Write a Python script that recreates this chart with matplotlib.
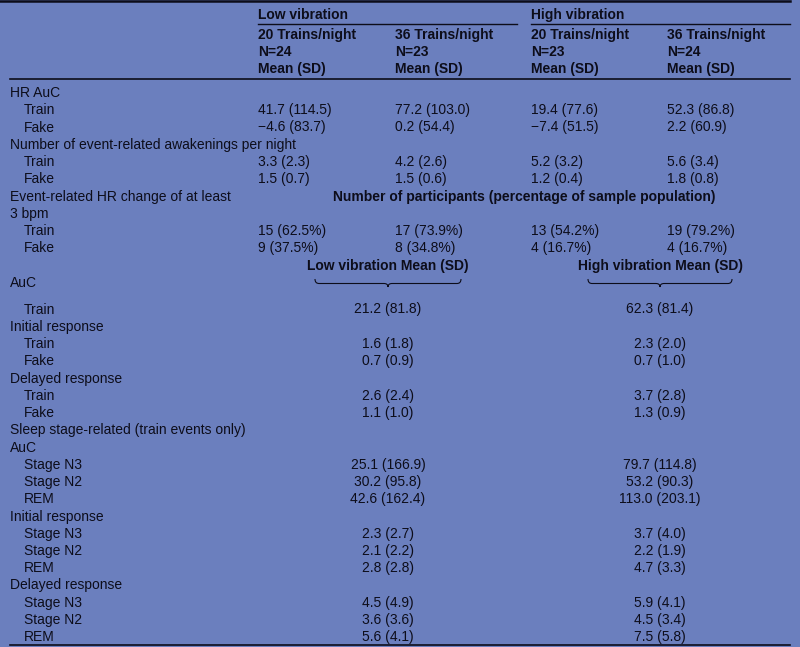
import numpy as np
import matplotlib.pyplot as plt
from matplotlib.path import Path
from matplotlib.patches import PathPatch

# Column headers
groups = ["Low vibration", "High vibration"]
trains = ["20 Trains/night", "36 Trains/night", "20 Trains/night", "36 Trains/night"]
n_sizes = [24, 23, 23, 24]

# Four-column section: mean, sd per column
hr_auc_train = [(41.7, 114.5), (77.2, 103.0), (19.4, 77.6), (52.3, 86.8)]
hr_auc_fake = [(-4.6, 83.7), (0.2, 54.4), (-7.4, 51.5), (2.2, 60.9)]
awake_train = [(3.3, 2.3), (4.2, 2.6), (5.2, 3.2), (5.6, 3.4)]
awake_fake = [(1.5, 0.7), (1.5, 0.6), (1.2, 0.4), (1.8, 0.8)]
# participants with HR change >= 3 bpm: count, percent
hr3_train = [(15, 62.5), (17, 73.9), (13, 54.2), (19, 79.2)]
hr3_fake = [(9, 37.5), (8, 34.8), (4, 16.7), (4, 16.7)]

# Two-column section (low, high vibration): mean, sd
auc_train = [(21.2, 81.8), (62.3, 81.4)]
init_train = [(1.6, 1.8), (2.3, 2.0)]
init_fake = [(0.7, 0.9), (0.7, 1.0)]
delay_train = [(2.6, 2.4), (3.7, 2.8)]
delay_fake = [(1.1, 1.0), (1.3, 0.9)]
stage_auc_n3 = [(25.1, 166.9), (79.7, 114.8)]
stage_auc_n2 = [(30.2, 95.8), (53.2, 90.3)]
stage_auc_rem = [(42.6, 162.4), (113.0, 203.1)]
stage_init_n3 = [(2.3, 2.7), (3.7, 4.0)]
stage_init_n2 = [(2.1, 2.2), (2.2, 1.9)]
stage_init_rem = [(2.8, 2.8), (4.7, 3.3)]
stage_delay_n3 = [(4.5, 4.9), (5.9, 4.1)]
stage_delay_n2 = [(3.6, 3.6), (4.5, 3.4)]
stage_delay_rem = [(5.6, 4.1), (7.5, 5.8)]


def msd(v):
    return f"{v[0]:.1f} ({v[1]:.1f})".replace("-", "\u2212")


def pct(v):
    return f"{v[0]} ({v[1]:.1f}%)"


bg = "#6b7fbe"
ink = "#0d0d1a"
fs = 10.0

fig = plt.figure(figsize=(8, 6.47), dpi=100, facecolor=bg)
ax = fig.add_axes([0, 0, 1, 1])
ax.set_xlim(0, 800)
ax.set_ylim(647, 0)
ax.axis("off")
ax.set_facecolor(bg)

col_x = [258, 395, 531, 667]
half_x = [388, 660]
x_lab, x_ind = 10, 24


def txt(x, y, s, bold=False, ha="left"):
    # y is the visual middle of capitals; place by baseline
    ax.text(x, y + 5, s, fontsize=fs, family="Liberation Sans", color=ink,
            fontweight="bold" if bold else "normal", ha=ha, va="baseline")


# rules
ax.plot([0, 790], [1, 1], color=ink, lw=1.8)
ax.plot([258, 517], [24, 24], color=ink, lw=1.0)
ax.plot([531, 790], [24, 24], color=ink, lw=1.0)
ax.plot([10, 790], [79, 79], color=ink, lw=1.2)
ax.plot([10, 790], [645, 645], color=ink, lw=1.2)

# header
for g, x in zip(groups, [col_x[0], col_x[2]]):
    txt(x, 14, g, bold=True)
for t, n, x in zip(trains, n_sizes, col_x):
    txt(x, 34, t, bold=True)
    txt(x, 51, f"N={n}", bold=True)
    txt(x, 68, "Mean (SD)", bold=True)

dy = 17.25
y = 92
top_rows = [
    ("HR AuC", 0, None, msd),
    ("Train", 1, hr_auc_train, msd),
    ("Fake", 1, hr_auc_fake, msd),
    ("Number of event-related awakenings per night", 0, None, msd),
    ("Train", 1, awake_train, msd),
    ("Fake", 1, awake_fake, msd),
    ("Event-related HR change of at least", 0, None, msd),
    ("3 bpm", 0, None, msd),
    ("Train", 1, hr3_train, pct),
    ("Fake", 1, hr3_fake, pct),
]
for label, ind, vals, fmt in top_rows:
    txt(x_ind if ind else x_lab, y, label)
    if vals is not None:
        for v, x in zip(vals, col_x):
            txt(x, y, fmt(v))
    if label.startswith("Event-related"):
        txt(524, y, "Number of participants (percentage of sample population)",
            bold=True, ha="center")
    y += dy

# two-column sub header with braces
txt(half_x[0], 265, "Low vibration Mean (SD)", bold=True, ha="center")
txt(half_x[1], 265, "High vibration Mean (SD)", bold=True, ha="center")
txt(x_lab, 282, "AuC")
for xc, hw in zip(half_x, [73, 72]):
    x0, x1, yb = xc - hw, xc + hw, 283.5
    verts = [(x0, 279), (x0, yb), (x0 + 4, yb), (xc - 4, yb), (xc, yb),
             (xc, yb + 3.5), (xc, yb), (xc + 4, yb), (x1 - 4, yb),
             (x1, yb), (x1, 279)]
    codes = [Path.MOVETO, Path.CURVE3, Path.CURVE3, Path.LINETO, Path.CURVE3,
             Path.CURVE3, Path.CURVE3, Path.CURVE3, Path.LINETO,
             Path.CURVE3, Path.CURVE3]
    ax.add_patch(PathPatch(Path(verts, codes), fill=False, ec=ink, lw=0.8))

bottom_rows = [
    ("Train", 1, auc_train),
    ("Initial response", 0, None),
    ("Train", 1, init_train),
    ("Fake", 1, init_fake),
    ("Delayed response", 0, None),
    ("Train", 1, delay_train),
    ("Fake", 1, delay_fake),
    ("Sleep stage-related (train events only)", 0, None),
    ("AuC", 0, None),
    ("Stage N3", 1, stage_auc_n3),
    ("Stage N2", 1, stage_auc_n2),
    ("REM", 1, stage_auc_rem),
    ("Initial response", 0, None),
    ("Stage N3", 1, stage_init_n3),
    ("Stage N2", 1, stage_init_n2),
    ("REM", 1, stage_init_rem),
    ("Delayed response", 0, None),
    ("Stage N3", 1, stage_delay_n3),
    ("Stage N2", 1, stage_delay_n2),
    ("REM", 1, stage_delay_rem),
]
y = 308.5
for label, ind, vals in bottom_rows:
    txt(x_ind if ind else x_lab, y, label)
    if vals is not None:
        for v, x in zip(vals, half_x):
            txt(x, y, msd(v), ha="center")
    y += dy

fig.savefig("out.png", dpi=100, facecolor=bg)
